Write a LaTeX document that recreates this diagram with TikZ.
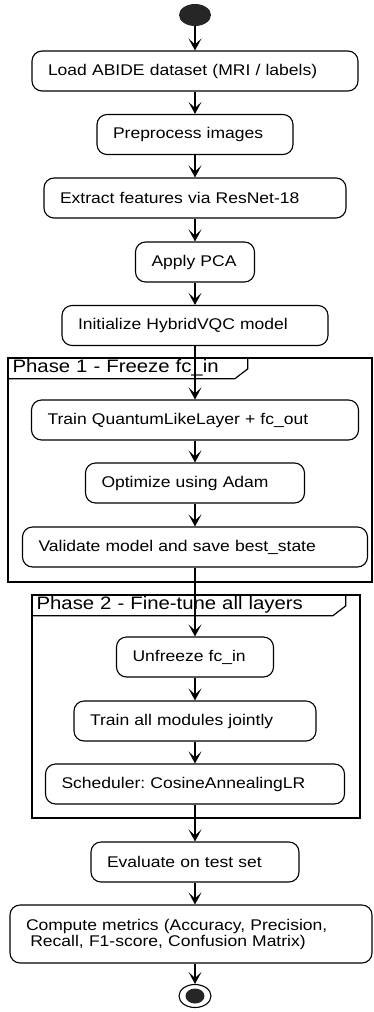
\documentclass[tikz,border=0pt]{standalone}
\usepackage{fontspec}
\setmainfont{Liberation Sans}[FakeStretch=1.13]
\frenchspacing
\usetikzlibrary{arrows.meta,positioning,shapes.geometric}

\begin{document}
\begin{tikzpicture}[
    every node/.style={font=\fontsize{15.5}{16}\selectfont},
    act/.style={draw,line width=1.1pt,rounded corners=10pt,minimum height=40pt,
                inner xsep=16pt,inner ysep=4pt,align=left},
    frm/.style={draw,line width=1.2pt,inner sep=0pt},
    tab/.style={font=\fontsize{18}{19}\selectfont,inner xsep=5pt,inner ysep=0pt,
                minimum height=21pt,align=left,anchor=north west},
    tabline/.style={line width=1.2pt},
    flow/.style={-{Stealth[length=12pt,width=13pt,inset=6pt]},line width=1.3pt},
    startdot/.style={ellipse,fill=black!85,minimum width=32pt,minimum height=22pt,inner sep=0pt},
    stopring/.style={draw,ellipse,line width=1.1pt,minimum width=32pt,minimum height=23pt,inner sep=0pt},
    stopdot/.style={ellipse,fill=black!85,minimum width=19pt,minimum height=15pt,inner sep=0pt},
    x=1pt, y=-1pt
]
\useasboundingbox (0,0) rectangle (373,1012);

% Phase frames
\node[frm,minimum width=364pt,minimum height=224pt] (ph1) at (190,470) {};
\node[tab,text width=230pt] (t1) at (ph1.north west) {Phase 1 - Freeze fc\_in};
\draw[tabline] (t1.south west) -- ([xshift=-13pt]t1.south east)
    -- ([yshift=10pt]t1.south east) -- (t1.north east);

\node[frm,minimum width=328pt,minimum height=223pt] (ph2) at (196,706.5) {};
\node[tab,text width=304pt] (t2) at (ph2.north west) {Phase 2 - Fine-tune all layers};
\draw[tabline] (t2.south west) -- ([xshift=-13pt]t2.south east)
    -- ([yshift=10pt]t2.south east) -- (t2.north east);

% Start
\node[startdot] (start) at (195,15) {};

% Data preparation
\node[act,text width=294pt] (load) at (195,71) {Load ABIDE dataset (MRI / labels)};
\node[act,text width=164pt] (prep) at (195,134.5) {Preprocess images};
\node[act,text width=270pt] (feat) at (195,198) {Extract features via ResNet-18};
\node[act,text width=87pt] (pca) at (195,262) {Apply PCA};
\node[act,text width=234pt] (init) at (195,325.5) {Initialize HybridVQC model};

% Phase 1
\node[act,text width=295pt] (trainq) at (195,420) {Train QuantumLikeLayer + fc\_out};
\node[act,text width=187pt] (adam) at (195,483) {Optimize using Adam};
\node[act,text width=313pt] (valid) at (195,547) {Validate model and save best\_state};

% Phase 2
\node[act,text width=125pt] (unfr) at (195,657) {Unfreeze fc\_in};
\node[act,text width=210pt] (trainall) at (195,721) {Train all modules jointly};
\node[act,text width=267pt] (sched) at (195,784) {Scheduler: CosineAnnealingLR};

% Evaluation
\node[act,text width=176pt] (eval) at (195,862) {Evaluate on test set};
\node[act,text width=330pt,minimum height=58pt] (metrics) at (191,934)
    {Compute metrics (Accuracy, Precision,\\\hspace*{0.28em}Recall, F1-score, Confusion Matrix)};

% Stop
\node[stopring] (stop) at (195,996) {};
\node[stopdot] (stopin) at (stop) {};

% Flow
\draw[flow] (start) -- (load);
\draw[flow] (load) -- (prep);
\draw[flow] (prep) -- (feat);
\draw[flow] (feat) -- (pca);
\draw[flow] (pca) -- (init);
\draw[flow] (init) -- (trainq);
\draw[flow] (trainq) -- (adam);
\draw[flow] (adam) -- (valid);
\draw[flow] (valid) -- (unfr);
\draw[flow] (unfr) -- (trainall);
\draw[flow] (trainall) -- (sched);
\draw[flow] (sched) -- (eval);
\draw[flow] (eval) -- (eval |- metrics.north);
\draw[flow] (metrics.south -| stop) -- (stop);

\end{tikzpicture}
\end{document}
